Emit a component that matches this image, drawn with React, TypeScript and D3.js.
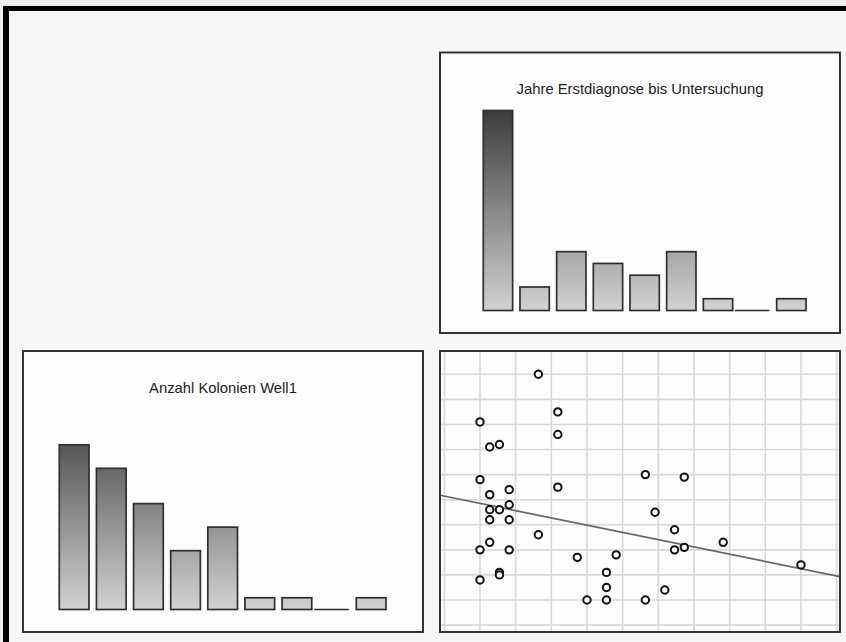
import React from "react";
import * as d3 from "d3";

// ---- data ----
const topTitle = "Jahre Erstdiagnose bis Untersuchung";
const bottomTitle = "Anzahl Kolonien Well1";
const yearsBinCounts = [17, 2, 5, 4, 3, 5, 1, 0, 1];
const coloniesBinCounts = [14, 12, 9, 5, 7, 1, 1, 0, 1];
// scatter: x = Jahre Erstdiagnose bis Untersuchung, y = Anzahl Kolonien Well1
const scatterX = [6, 8, 0, 8, 2, 1, 17, 21, 0, 8, 3, 1, 3, 1, 2, 18, 1, 3, 20, 6, 1, 25, 21, 0, 3, 20, 14, 10, 33, 2, 2, 13, 0, 13, 19, 11, 13, 17];
const scatterY = [90, 75, 71, 66, 62, 61, 50, 49, 48, 45, 44, 42, 38, 36, 36, 35, 32, 32, 28, 26, 23, 23, 21, 20, 20, 20, 18, 17, 14, 11, 10, 11, 8, 5, 4, 0, 0, 0];
const xBinCount = 9;
const yGridStep = 10;

const W = 846;
const H = 642;

type PanelBox = { x: number; y: number; w: number; h: number };

function Histogram({ box, counts, title, id, barLeft, barRight, maxCount }: {
  box: PanelBox; counts: number[]; title: string; id: string; barLeft: number; barRight: number; maxCount: number;
}) {
  const baseline = box.y + box.h - 22.5;
  const y = d3.scaleLinear().domain([0, maxCount]).range([baseline, baseline - 200]);
  const x = d3.scaleBand<number>().domain(d3.range(counts.length)).range([box.x + barLeft, box.x + barRight]).paddingInner(0.2).paddingOuter(0);
  const bw = x.bandwidth();
  return (
    <g>
      <defs>
        <linearGradient id={id} gradientUnits="userSpaceOnUse" x1={0} x2={0} y1={y(0)} y2={y(maxCount)}>
          <stop offset="0" stopColor="#d2d2d2" />
          <stop offset="1" stopColor="#3c3c3c" />
        </linearGradient>
      </defs>
      <rect x={box.x} y={box.y} width={box.w} height={box.h} fill="#fdfdfd" stroke="#2a2a2a" strokeWidth={1.9} />
      <text x={box.x + box.w / 2} y={box.y + 41.5} textAnchor="middle" fontFamily="'Liberation Sans', Arial, sans-serif" fontSize={14.8} fill="#222">{title}</text>
      {counts.map((c, i) =>
        c > 0 ? (
          <rect key={i} x={x(i)!} y={y(c)} width={bw} height={y(0) - y(c)} fill={`url(#${id})`} stroke="#2e2e2e" strokeWidth={1.7} />
        ) : (
          <line key={i} x1={x(i)! - 5} x2={x(i)! + bw} y1={y(0)} y2={y(0)} stroke="#2e2e2e" strokeWidth={1.7} />
        )
      )}
    </g>
  );
}

function Scatter({ box }: { box: PanelBox }) {
  const xMax = d3.max(scatterX)!;
  const yMax = d3.max(scatterY)!;
  const x = d3.scaleLinear().domain([0, xMax]).range([box.x + 40, box.x + box.w - 39]);
  const y = d3.scaleLinear().domain([0, yMax]).range([box.y + box.h - 32, box.y + 23.3]);
  const xStep = xMax / xBinCount;
  const xGrid = d3.range(-1, xBinCount + 3).map((k) => k * xStep);
  const yGrid = d3.range(-1, 12).map((k) => k * yGridStep);
  const mx = d3.mean(scatterX)!;
  const my = d3.mean(scatterY)!;
  let sxy = 0, sxx = 0;
  scatterX.forEach((v, i) => { sxy += (v - mx) * (scatterY[i] - my); sxx += (v - mx) * (v - mx); });
  const slope = sxy / sxx;
  const icpt = my - slope * mx;
  const x0 = x.invert(box.x);
  const x1 = x.invert(box.x + box.w);
  const line = d3.line<number>().x((d) => x(d)).y((d) => y(icpt + slope * d));
  return (
    <g>
      <defs>
        <clipPath id="scClip"><rect x={box.x} y={box.y} width={box.w} height={box.h} /></clipPath>
      </defs>
      <rect x={box.x} y={box.y} width={box.w} height={box.h} fill="#fdfdfd" />
      <g clipPath="url(#scClip)">
        {xGrid.map((v, i) => <line key={"gx" + i} x1={x(v)} x2={x(v)} y1={box.y} y2={box.y + box.h} stroke="#d8d8d8" strokeWidth={1.6} />)}
        {yGrid.map((v, i) => <line key={"gy" + i} x1={box.x} x2={box.x + box.w} y1={y(v)} y2={y(v)} stroke="#d8d8d8" strokeWidth={1.6} />)}
        <path d={line([x0, x1])!} stroke="#666" strokeWidth={1.7} fill="none" />
        {scatterX.map((v, i) => (
          <circle key={i} cx={x(v)} cy={y(scatterY[i])} r={3.7} fill="#fff" stroke="#111" strokeWidth={2} />
        ))}
      </g>
      <rect x={box.x} y={box.y} width={box.w} height={box.h} fill="none" stroke="#2a2a2a" strokeWidth={1.9} />
    </g>
  );
}

export default function App() {
  const maxCount = d3.max([...yearsBinCounts, ...coloniesBinCounts])!;
  return (
    <svg width={W} height={H} style={{ position: "absolute", left: 0, top: 0, display: "block" }}>
      <rect x={0} y={0} width={W} height={H} fill="#efefef" />
      <rect x={6} y={9} width={W - 6} height={H - 9} fill="#f6f6f6" />
      <line x1={3} x2={W} y1={8.5} y2={8.5} stroke="#000" strokeWidth={5} />
      <line x1={6} x2={6} y1={6} y2={H} stroke="#000" strokeWidth={6} />
      <Histogram box={{ x: 440, y: 52.5, w: 400, h: 280.5 }} counts={yearsBinCounts} title={topTitle} id="gradTop" barLeft={43.3} barRight={366} maxCount={maxCount} />
      <Histogram box={{ x: 23, y: 351, w: 400, h: 281 }} counts={coloniesBinCounts} title={bottomTitle} id="gradBottom" barLeft={36.3} barRight={363} maxCount={maxCount} />
      <Scatter box={{ x: 440, y: 351, w: 400, h: 281 }} />
    </svg>
  );
}
